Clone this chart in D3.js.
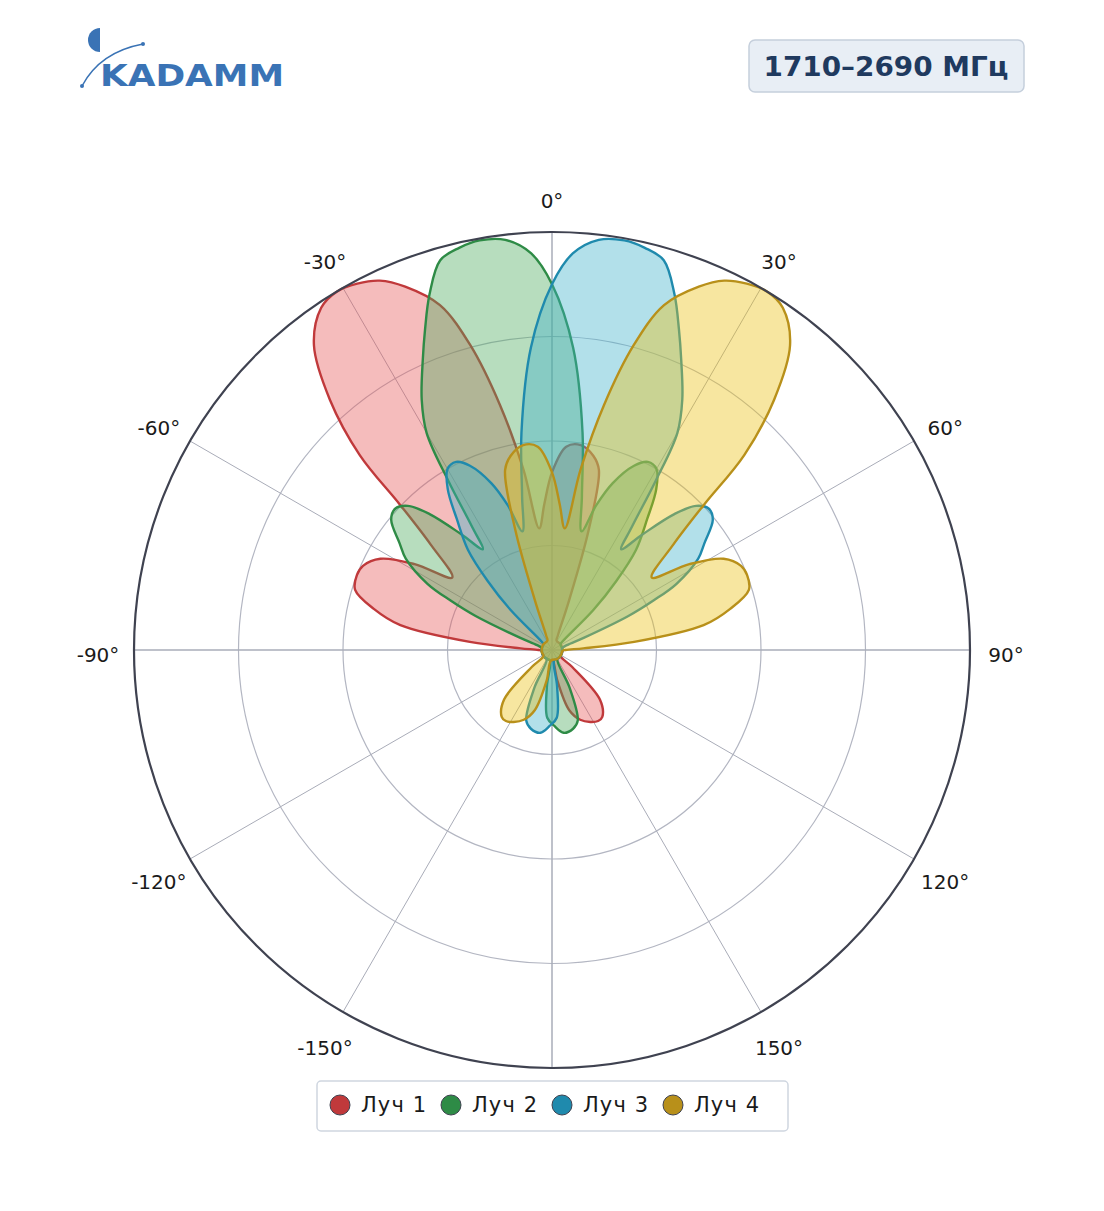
<!DOCTYPE html>
<html>
<head>
<meta charset="utf-8">
<script src="https://cdn.jsdelivr.net/npm/d3@7"></script>
<style>
  body { margin: 0; background: #fff; font-family: "DejaVu Sans", sans-serif; }
</style>
</head>
<body>
<svg id="chart" width="1104" height="1211"></svg>
<script>
// beam patterns: [angle deg, level], level 0..40 (outer ring = 40)
var beam1 = [[-180,1],[-150,1],[-120,1],[-95,1],[-90,1.3],[-87,3],[-84.4,7.9],[-80.7,14.7],[-77,17.5],[-73,19.7],[-69,20],[-66,19.8],[-62,18.6],[-58,15.5],[-54,11.8],[-49,15.4],[-46.3,20.1],[-44.6,26.2],[-41.6,32],[-38,37],[-34,39.5],[-31,40],[-28,39.7],[-25,39],[-22,37.5],[-18,34.7],[-15,30.2],[-12,24],[-9,17.5],[-6,11.7],[-3,14],[0,17],[4,19.5],[8,19.8],[12,19],[14.6,17.8],[17,12],[19,5],[22,1.5],[26,1],[60,1],[100,1],[125,1],[130,2.5],[136,6.6],[143,8],[147,8.1],[152,7.8],[158,7.2],[164,6],[170,3],[175,1]];
var beam2 = [[-176,6.5],[-172,3.5],[-168,1],[-140,1],[-110,1],[-80,1],[-72,1.5],[-69,3.3],[-66,8],[-64,10.8],[-62,13.5],[-58,16.5],[-55,17.8],[-51,19.8],[-48,20.2],[-45,19.5],[-42,17.5],[-38,14],[-34.5,11.7],[-33,14],[-31.5,19],[-30,24],[-27.5,27],[-24,30.4],[-21.6,33],[-19,36],[-16,38.8],[-13,39.5],[-10,39.8],[-6.5,39.5],[-3,38],[0,35],[4,29],[8,21],[11,15],[14,11.7],[17,14.5],[20,17],[24,19.3],[27,20.2],[30,20],[33,18.3],[36,15.5],[40,12.5],[43,9],[46,5.5],[50,1.5],[55,1],[90,1],[130,1],[150,1],[155,4],[160,7.2],[165,7.8],[172,8],[178,7.3]];
var beam3 = [[-178,7.3],[-172,8],[-165,7.8],[-160,7.2],[-155,4],[-150,1],[-130,1],[-90,1],[-55,1],[-50,1.5],[-46,5.5],[-43,9],[-40,12.5],[-36,15.5],[-33,18.3],[-30,20],[-27,20.2],[-24,19.3],[-20,17],[-17,14.5],[-14,11.7],[-11,15],[-8,21],[-4,29],[0,35],[3,38],[6.5,39.5],[10,39.8],[13,39.5],[16,38.8],[19,36],[21.6,33],[24,30.4],[27.5,27],[30,24],[31.5,19],[33,14],[34.5,11.7],[38,14],[42,17.5],[45,19.5],[48,20.2],[51,19.8],[55,17.8],[58,16.5],[62,13.5],[64,10.8],[66,8],[69,3.3],[72,1.5],[80,1],[110,1],[140,1],[168,1],[172,3.5],[176,6.5]];
var beam4 = [[-175,1],[-170,3],[-164,6],[-158,7.2],[-152,7.8],[-147,8.1],[-143,8],[-136,6.6],[-130,2.5],[-125,1],[-100,1],[-60,1],[-26,1],[-22,1.5],[-19,5],[-17,12],[-14.6,17.8],[-12,19],[-8,19.8],[-4,19.5],[0,17],[3,14],[6,11.7],[9,17.5],[12,24],[15,30.2],[18,34.7],[22,37.5],[25,39],[28,39.7],[31,40],[34,39.5],[38,37],[41.6,32],[44.6,26.2],[46.3,20.1],[49,15.4],[54,11.8],[58,15.5],[62,18.6],[66,19.8],[69,20],[73,19.7],[77,17.5],[80.7,14.7],[84.4,7.9],[87,3],[90,1.3],[95,1],[120,1],[150,1]];
var beamNames = ["Луч 1", "Луч 2", "Луч 3", "Луч 4"];
var strokeColors = ["#c0393b", "#2e8b46", "#1f8aad", "#b8901a"];
var fillColors = ["#e65858", "#4baa5c", "#3eb1ca", "#ebc011"];
var angleTicks = [0, 30, 60, 90, 120, 150, 180, -150, -120, -90, -60, -30];
var ringTicks = [10, 20, 30, 40];

var svg = d3.select("#chart");
var cx = 552, cy = 650, R = 418;
var r = d3.scaleLinear().domain([0, 40]).range([0, R]);
var rad = function(d){ return d * Math.PI / 180; };

var g = svg.append("g").attr("transform", "translate(" + cx + "," + cy + ")");

// rings and spokes
g.selectAll(".ring").data(ringTicks.slice(0, 3)).enter().append("circle")
  .attr("r", function(d){ return r(d); })
  .attr("fill", "none").attr("stroke", "#b3b6c2").attr("stroke-width", 1.2);

g.selectAll(".spoke").data(angleTicks).enter().append("line")
  .attr("x1", 0).attr("y1", 0)
  .attr("x2", function(d){ return R * Math.sin(rad(d)); })
  .attr("y2", function(d){ return -R * Math.cos(rad(d)); })
  .attr("stroke", "#a9acb8").attr("stroke-width", function(d){ return d % 90 == 0 ? 1.5 : 1; });

var line = d3.lineRadial()
  .angle(function(d){ return rad(d[0]); })
  .radius(function(d){ return r(d[1]); })
  .curve(d3.curveCatmullRomClosed.alpha(0.5));

[beam1, beam2, beam3, beam4].forEach(function(beam, i){
  g.append("path")
    .attr("d", line(beam))
    .attr("fill", fillColors[i]).attr("fill-opacity", 0.4)
    .attr("stroke", strokeColors[i]).attr("stroke-width", 2.4)
    .attr("stroke-linejoin", "round");
});

g.append("circle").attr("r", R).attr("fill", "none")
  .attr("stroke", "#3f4250").attr("stroke-width", 2.2);

// angle labels sit a little below the circle centre
g.selectAll(".alabel").data(angleTicks).enter().append("text")
  .attr("x", function(d){ return 454 * Math.sin(rad(d)); })
  .attr("y", function(d){ return 5 - 454 * Math.cos(rad(d)); })
  .attr("text-anchor", "middle").attr("dominant-baseline", "central")
  .attr("font-size", 20).attr("fill", "#1a1a1a")
  .text(function(d){ return d == 180 ? "" : d + "°"; });

// title box
svg.append("rect").attr("x", 749).attr("y", 40).attr("width", 275).attr("height", 52)
  .attr("rx", 6).attr("fill", "#e8eef5").attr("stroke", "#c5cfdc").attr("stroke-width", 1.5);
svg.append("text").attr("x", 886).attr("y", 66).attr("text-anchor", "middle")
  .attr("dominant-baseline", "central").attr("font-size", 27).attr("font-weight", "bold")
  .attr("fill", "#1f3a5f").attr("textLength", 245).attr("lengthAdjust", "spacingAndGlyphs")
  .text("1710–2690 МГц");

// logo
var logo = svg.append("g").attr("fill", "#3a73b5");
logo.append("path").attr("d", "M100,28 A12,12 0 0,0 100,52 Z");
logo.append("path").attr("d", "M82,86 Q100,52 143,44").attr("fill", "none")
  .attr("stroke", "#3a73b5").attr("stroke-width", 1.5);
logo.append("circle").attr("cx", 82).attr("cy", 86).attr("r", 2);
logo.append("circle").attr("cx", 143).attr("cy", 44).attr("r", 2);
logo.append("text").attr("x", 100).attr("y", 86).attr("font-size", 38)
  .attr("font-weight", "bold").attr("font-family", "DejaVu Sans")
  .attr("textLength", 184).attr("lengthAdjust", "spacingAndGlyphs")
  .attr("transform", "translate(0,86) scale(1,0.78) translate(0,-86)")
  .text("KADAMM");

// legend
svg.append("rect").attr("x", 317).attr("y", 1081).attr("width", 471).attr("height", 50)
  .attr("rx", 4).attr("fill", "#fff").attr("stroke", "#cfd6e0").attr("stroke-width", 1.5);
var leg = svg.selectAll(".leg").data(beamNames).enter().append("g")
  .attr("transform", function(d, i){ return "translate(" + (340 + i * 111) + ",1105)"; });
leg.append("circle").attr("r", 10)
  .attr("fill", function(d, i){ return strokeColors[i]; })
  .attr("stroke", "#3f4250").attr("stroke-width", 1);
leg.append("text").attr("x", 21).attr("dominant-baseline", "central")
  .attr("font-size", 21).attr("fill", "#1a1a1a")
  .attr("textLength", 65).attr("lengthAdjust", "spacing")
  .text(function(d){ return d; });
</script>
</body>
</html>
